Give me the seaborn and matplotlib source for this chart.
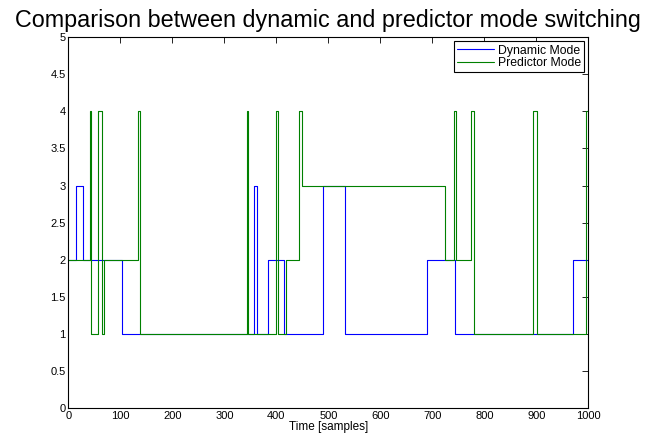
import matplotlib
matplotlib.use('agg')
import matplotlib.pyplot as plt
import seaborn as sns
import pandas as pd

# step change points (sample index, mode)
dyn_t = [0, 15, 28, 104, 357, 363, 384, 414, 489, 532, 690, 743, 971, 1000]
dyn_mode = [2, 3, 2, 1, 3, 1, 2, 1, 3, 1, 2, 1, 2, 2]

pred_t = [0, 42, 44, 57, 65, 69, 134, 138, 344, 346, 400, 404, 418, 444, 450,
          725, 741, 746, 774, 780, 893, 902, 996, 1000]
pred_mode = [2, 4, 1, 4, 1, 2, 4, 1, 4, 1, 4, 1, 2, 4, 3,
             2, 4, 2, 4, 1, 4, 1, 4, 4]

x_ticks = [0, 100, 200, 300, 400, 500, 600, 700, 800, 900, 1000]
y_ticks = [0, 0.5, 1, 1.5, 2, 2.5, 3, 3.5, 4, 4.5, 5]
y_labels = ['0', '0.5', '1', '1.5', '2', '2.5', '3', '3.5', '4', '4.5', '5']

sns.set_style('white')
plt.rcParams['font.family'] = ['Liberation Sans', 'DejaVu Sans']
plt.rcParams['text.color'] = 'black'
plt.rcParams['axes.labelcolor'] = 'black'

dyn_df = pd.DataFrame({'t': dyn_t, 'mode': dyn_mode})
pred_df = pd.DataFrame({'t': pred_t, 'mode': pred_mode})

fig = plt.figure(figsize=(6.55, 4.43), dpi=100)
ax = fig.add_axes([0.1043, 0.079, 0.7939, 0.837])

sns.lineplot(data=dyn_df, x='t', y='mode', ax=ax, color='#0000ff', lw=0.8,
             drawstyle='steps-post', label='Dynamic Mode', sort=False)
sns.lineplot(data=pred_df, x='t', y='mode', ax=ax, color='#008000', lw=0.8,
             drawstyle='steps-post', label='Predictor Mode', sort=False)

ax.set_xlim(0, 1000)
ax.set_ylim(0, 5)
ax.set_xticks(x_ticks)
ax.set_yticks(y_ticks)
ax.set_yticklabels(y_labels)
ax.tick_params(direction='in', length=4, width=0.6, labelsize=8, pad=2,
               top=True, right=True, colors='black')
for s in ax.spines.values():
    s.set_color('black')
    s.set_linewidth(0.8)

ax.set_xlabel('Time [samples]', fontsize=8.5, labelpad=0, color='black')
ax.set_ylabel('')
ax.set_title('Comparison between dynamic and predictor mode switching',
             fontsize=16.8, pad=7.5, color='black')

leg = ax.legend(loc='upper right', fontsize=8.8, frameon=True, fancybox=False,
                framealpha=1, edgecolor='black', borderpad=0.25,
                handlelength=3.0, handletextpad=0.35, labelspacing=0.05,
                borderaxespad=0.35)
leg.get_frame().set_linewidth(0.8)
for t in leg.get_texts():
    t.set_color('black')

fig.savefig('out.png', dpi=100)
